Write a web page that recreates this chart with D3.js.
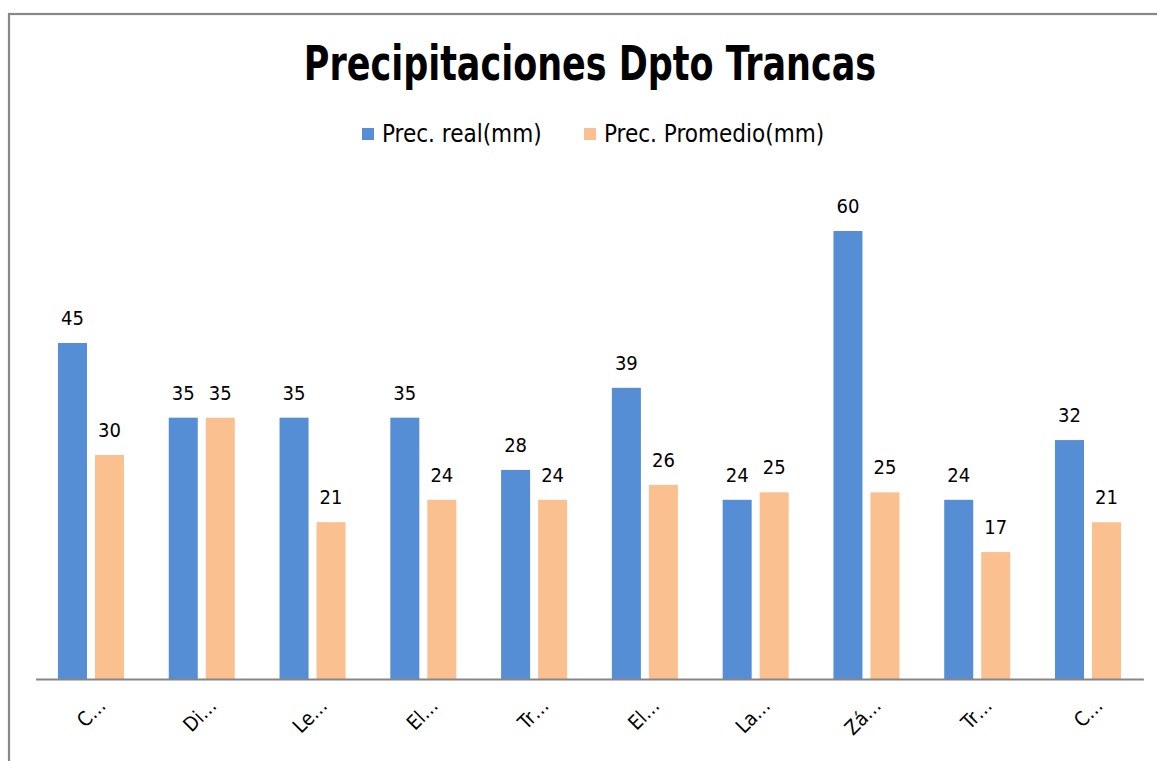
<!DOCTYPE html>
<html><head><meta charset="utf-8">
<script src="https://cdn.jsdelivr.net/npm/d3@7"></script>
<style>html,body{margin:0;padding:0;background:#fff;overflow:hidden}</style>
</head><body>
<svg id="c" width="1157" height="761"></svg>
<script>
const categories = ["C…","Di…","Le…","El…","Tr…","El…","La…","Zá…","Tr…","C…"];
const seriesNames = ["Prec. real(mm)","Prec. Promedio(mm)"];
const realValues = [45,35,35,35,28,39,24,60,24,32];
const avgValues = [30,35,21,24,24,26,25,25,17,21];
const colors = ["#558ED5","#FAC090"];

const FONT = "'Liberation Sans Narrow','Arial Narrow','DejaVu Sans Condensed',sans-serif";
const svg = d3.select("#c");
svg.append("rect").attr("x",9).attr("y",14).attr("width",1200).attr("height",800)
  .attr("fill","#fff").attr("stroke","#888").attr("stroke-width",2.2);

const left=35.6, right=1143.4, baseY=679;
const y = d3.scaleLinear().domain([0,60]).range([baseY, 231]);
const x0 = d3.scaleBand().domain(d3.range(categories.length)).range([left,right]).paddingInner(0.404).paddingOuter(0.202);
const x1 = d3.scaleBand().domain([0,1]).range([0,x0.bandwidth()]).paddingInner(0.216).paddingOuter(0);

const data = categories.map((c,i)=>({c,i,vals:[realValues[i],avgValues[i]]}));
const g = svg.append("g");
const grp = g.selectAll("g.grp").data(data).join("g").attr("transform",d=>`translate(${x0(d.i)},0)`);
grp.selectAll("rect").data(d=>d.vals.map((v,k)=>({v,k}))).join("rect")
  .attr("x",d=>x1(d.k)).attr("width",x1.bandwidth())
  .attr("y",d=>y(d.v)).attr("height",d=>baseY-y(d.v)).attr("fill",d=>colors[d.k]);
grp.selectAll("text").data(d=>d.vals.map((v,k)=>({v,k}))).join("text")
  .attr("x",d=>x1(d.k)+x1.bandwidth()/2).attr("y",d=>y(d.v)-18)
  .attr("text-anchor","middle").attr("font-family",FONT).attr("font-size",20).attr("fill","#000")
  .text(d=>d.v);

// axis
const xAxis = d3.axisBottom(d3.scaleLinear().domain([0,1]).range([left,right])).ticks(0).tickSize(0).tickSizeOuter(0);
const ax = svg.append("g").attr("transform",`translate(0,${baseY})`).call(xAxis);
ax.select(".domain").attr("stroke","#868686").attr("stroke-width",2);
ax.selectAll(".tick").remove();

svg.append("g").selectAll("text").data(data).join("text")
  .attr("transform",d=>`translate(${x0(d.i)+x0.bandwidth()/2+6},${baseY+18}) rotate(-45)`)
  .attr("text-anchor","end").attr("dy","0.7em").attr("font-family",FONT).attr("font-size",20).attr("fill","#000")
  .text(d=>d.c);

// title
svg.append("g").attr("transform","translate(590,80) scale(0.81,1)")
  .append("text").attr("x",0).attr("y",0).attr("text-anchor","middle")
  .attr("font-family",FONT).attr("font-weight","bold").attr("font-size",48).attr("fill","#000")
  .text("Precipitaciones Dpto Trancas");

// legend
const legX=[362,584];
const lg = svg.append("g").selectAll("g").data(seriesNames).join("g")
  .attr("transform",(d,i)=>`translate(${legX[i]},128)`);
lg.append("rect").attr("width",12).attr("height",12).attr("fill",(d,i)=>colors[i]);
lg.append("text").attr("x",20).attr("y",6).attr("dy","0.35em").attr("font-family",FONT)
  .attr("font-size",24).attr("fill","#000").text(d=>d);
</script>
</body></html>
